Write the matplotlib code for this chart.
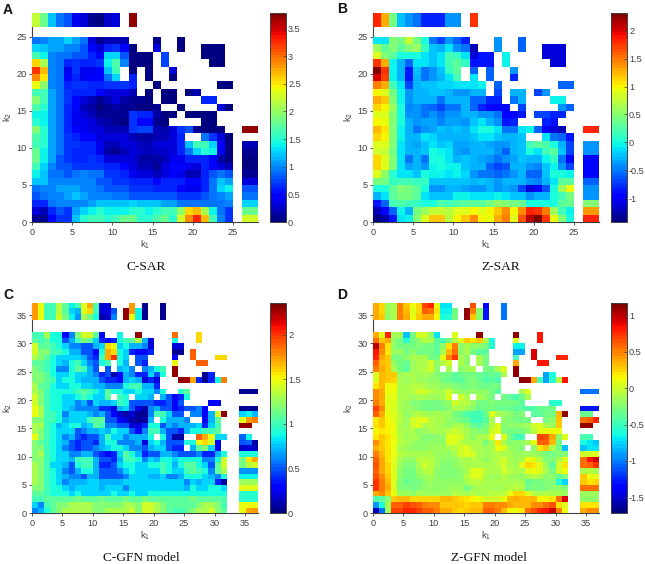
#!/usr/bin/env python
# -*- coding: utf-8 -*-

import numpy as np
import matplotlib
matplotlib.use('Agg')
import matplotlib.pyplot as plt

_ = np.nan

plt.rcParams['font.family'] = ['Liberation Sans', 'DejaVu Sans']
plt.rcParams['mathtext.fontset'] = 'custom'
plt.rcParams['mathtext.rm'] = 'Liberation Sans'
plt.rcParams['mathtext.it'] = 'Liberation Sans'
plt.rcParams['axes.unicode_minus'] = False

# all grids are written top row first, short rows are white to the right
a_top = [2.2, 1.8, 1.2, .9, .8, .4, .3, .1, .05, .25, .3, _, 3.7]
a_right = [3.7, _, .2, .1, .05, .05, .1, .35, .8, .9, 1.3, 1.8, 2.3]
a_main = [
    [.9, 1.0, 1.1, 1.1, 1.3, 1.1, .9, .3, .1, .2, .2, .2, _, _, _, .1, _, _, .05],
    [1.3, 1.2, 1.1, 1.1, 1.0, 1.0, .8, .5, .3, .6, .7, .5, .05, _, _, .3, _, _, .05, _, _, .05, .05, .05],
    [1.6, 1.4, 1.0, .9, .9, .8, .8, .6, .5, 1.3, 1.3, .8, .05, .05, .05, _, .75, _, _, _, _, .05, .05, .05],
    [2.6, 2.1, 1.0, .9, .6, .7, .6, .6, .7, 1.4, 1.7, 1.0, .05, .05, .05, _, .75, _, _, _, _, _, .05, .05],
    [3.2, 2.7, 1.0, .9, .4, .7, .4, .4, .5, 1.2, 1.6, _, .05, _, .05, _, _, .3],
    [2.9, 2.5, 1.0, .9, .5, .6, .4, .5, .5, .9, 1.3, _, .6, _, .05, _, _, .05],
    [2.4, 2.0, 1.0, .9, .6, .7, .7, .6, .6, .7, .7, .7, .6, _, _, .05, _, _, _, _, _, _, _, .05, .05],
    [1.6, 1.6, 1.1, .9, .7, .6, .6, .6, .5, .3, .3, .3, .2, _, .05, _, .05, .05, _, .05, .2],
    [1.9, 1.6, 1.1, .9, .7, .5, .3, .2, .1, .2, .3, .15, .1, .1, .05, _, .05, .05, _, _, _, .6, .6],
    [1.7, 1.5, 1.1, .9, .6, .5, .2, .15, .05, .1, .15, .1, .1, .05, .05, .1, _, _, .05, _, _, _, _, .3, .05],
    [1.4, 1.4, 1.1, .9, .6, .4, .3, .2, .1, .1, .1, .1, .7, .6, .6, .15, .05, .05, _, .05, .05, .05, .05],
    [1.5, 1.4, 1.1, .9, .6, .4, .4, .3, .2, .15, .1, .05, .7, .5, .5, .1, .05, _, _, _, _, .05, .05],
    [1.9, 1.5, 1.1, .9, .6, .5, .4, .3, .3, .2, .2, .2, .7, .75, .75, .2, .15, .3, .7, .8, .1, .05, .05, .05],
    [1.7, 1.5, 1.1, .9, .7, .6, .5, .5, .3, .3, .3, .3, .2, .15, .15, .2, .2, .3, .6, _, _, .9, .7, .3, .05],
    [1.6, 1.5, 1.1, .9, .7, .7, .6, .6, .4, .2, .2, .3, .3, .2, .2, .3, .3, .3, .6, 1.2, 1.6, 1.6, 1.3, .5, .05],
    [1.8, 1.4, 1.1, .9, .7, .6, .6, .6, .4, .15, .1, .2, .3, .25, .2, .25, .25, .3, .6, .9, 1.3, 1.5, 1.4, .4, .05],
    [1.8, 1.4, 1.1, .8, .7, .6, .6, .7, .6, .3, .3, .3, .3, .15, .15, .15, .2, .4, .4, .6, .6, .6, .5, .15, .05],
    [1.6, 1.3, 1.0, .8, .8, .7, .7, .7, .7, .6, .6, .5, .3, .2, .2, .1, .3, .5, .5, .4, .3, .6, .5, .3, .2],
    [1.4, 1.2, .9, .9, .8, .9, 1.0, .9, .9, .7, .7, .6, .4, .3, .3, .2, .3, .5, .4, .2, .2, .6, .8, .9, .8],
    [1.2, 1.2, 1.0, 1.0, 1.0, 1.0, 1.0, 1.0, .8, .8, .7, .7, .6, .6, .6, .5, .6, .6, .6, .5, .5, .6, .9, 1.2, 1.1],
    [.9, 1.0, 1.0, 1.1, 1.1, 1.1, 1.0, 1.0, .9, .8, .8, .8, .7, .7, .7, .6, .6, .6, .5, .4, .4, .6, .9, 1.3, 1.4],
    [.8, .9, 1.0, 1.0, 1.1, 1.2, 1.1, 1.0, 1.0, 1.0, .9, .9, .8, .8, .8, .8, .8, .8, .7, .7, .7, .8, .9, 1.0, 1.1],
    [.6, .6, .9, 1.0, 1.0, 1.0, 1.0, 1.1, 1.2, 1.2, 1.2, 1.2, 1.3, 1.2, 1.2, 1.2, 1.1, 1.1, .9, .9, .9, .9, .9, .9, 1.0],
    [.3, .2, .6, .8, .7, 1.1, 1.3, 1.4, 1.5, 1.4, 1.4, 1.4, 1.5, 1.5, 1.4, 1.5, 1.6, 1.6, 2.0, 2.6, 2.7, 2.1, 1.4, .9, .7],
    [.1, .1, .5, .7, .7, 1.2, 1.5, 1.6, 1.6, 1.5, 1.6, 1.8, 1.8, 1.5, 1.5, 1.7, 1.8, 1.5, 2.3, 2.9, 3.3, 2.7, 1.6, 1.0, .7],
]

b_top = [1.85, 1.3, .4, -.2, -.4, -.5, -.8, -.8, -.8, -.4, -.4, _, 1.75]
b_right = [1.85, _, -.4, -.4, -.95, -.95, -.95, -.6, -.4, -.4, .5, 1.35, 1.85]
b_main = [
    [-.1, -.1, .5, .4, .8, .4, 0, -.5, -.7, -.4, -.6, -.8, _, _, _, -.4, _, _, -.6],
    [.6, .3, .5, .3, .5, .6, .1, -.2, -.3, -.1, -.4, -.5, -1.2, _, _, -.4, _, _, -.6, _, _, -1.1, -1.1, -1.1],
    [.9, .5, .3, 0, 0, 0, -.1, -.2, -.1, .2, .1, -.1, -1.1, -.9, -.9, _, -.05, _, _, _, _, -1.1, -1.1, -1.1],
    [1.8, 1.3, -.05, -.3, -.6, -.1, -.1, -.2, -.1, .2, .3, .1, -.9, -.9, -.9, _, -.05, _, _, _, _, _, -1.1, -1.1],
    [2.3, 1.8, -.05, -.3, -.9, -.2, -.5, -.4, -.2, .1, .3, _, -.6, _, -.6, _, _, -.4],
    [2.0, 1.7, -.05, -.3, -.9, -.3, -.5, -.4, -.3, -.1, .2, _, -.1, _, -.6, _, _, -.8],
    [1.5, 1.3, .2, -.1, -.7, -.3, -.2, -.2, -.15, -.15, -.1, -.1, -.1, -.05, _, -.6, _, _, _, _, _, _, _, -.6, -.6],
    [1.0, .9, .4, -.05, -.4, -.3, -.3, -.25, -.25, -.3, -.4, -.4, -.3, -.3, _, -.7, _, -.3, -.3, _, -.7, -.4],
    [1.3, 1.2, .5, -.05, -.4, -.3, -.3, -.3, -.5, -.3, -.3, -.3, -.6, -.6, -.8, -.8, _, -.5, -.3, _, _, _, -.05, -.05],
    [1.1, 1.0, .6, 0, -.45, -.4, -.5, -.6, -.7, -.5, -.5, -.3, -.6, -.8, -1.0, -1.0, -1.0, _, -.7, _, _, _, _, -.4, -.6],
    [.9, .9, .5, 0, -.4, -.4, -.5, -.4, -.5, -.4, -.4, -.3, -.3, -.4, -.4, -.5, -1.0, -1.0, -.9, _, -.7, -.7, -.8, -.8],
    [1.0, .95, .5, 0, -.3, -.4, -.35, -.35, -.45, -.35, -.35, -.4, -.2, -.1, -.3, -.4, -.9, -.8, _, _, _, -.8, -.9],
    [1.25, 1.05, .45, -.05, -.3, -.5, -.4, -.35, -.25, -.3, -.25, -.3, -.1, 0, 0, -.1, -.5, -.5, -.1, -.05, -.6, -1.0, -1.1, -1.2],
    [1.15, 1.0, .45, -.05, -.3, -.3, -.1, -.15, -.3, -.3, -.3, -.3, -.2, -.1, -.1, -.2, -.3, -.3, -.2, _, _, -.1, -.5, -.6, -.85],
    [.9, .9, .45, -.1, -.3, -.35, -.25, -.1, -.2, -.15, -.35, -.35, -.3, -.3, -.35, -.4, -.4, -.3, -.2, .2, .3, .25, 0, -.3, -.7],
    [.85, .75, .4, -.1, -.3, -.3, -.2, 0, -.05, -.1, -.35, -.4, -.3, -.3, -.3, -.4, -.55, -.3, -.2, 0, -.1, .2, .3, -.2, -.7],
    [1.1, .9, .45, -.1, -.5, -.3, -.5, 0, 0, -.1, -.3, -.2, -.3, -.35, -.4, -.5, -.4, -.35, -.2, -.3, -.3, -.05, .1, -.5, -1.0],
    [1.15, .9, .45, -.1, -.35, -.3, -.4, -.05, 0, -.05, -.05, -.2, -.3, -.3, -.6, -.7, -.65, -.3, -.3, -.4, -.45, -.2, -.05, -.4, -.7],
    [.9, .55, .05, -.1, -.1, -.2, 0, -.05, -.05, -.1, -.05, -.15, -.4, -.5, -.5, -.6, -.5, -.4, -.3, -.55, -.55, -.2, 0, 0, -.05],
    [.4, .4, .1, .2, .2, .1, .1, -.2, -.25, -.25, -.25, -.2, -.3, -.25, -.3, -.4, -.3, -.3, -.3, -.4, -.45, -.3, -.1, .3, .3],
    [0, 0, .3, .5, .4, .3, 0, -.4, -.4, -.3, -.3, -.35, -.4, -.4, -.3, -.4, -.35, -.4, -.7, -1.1, -1.0, -.65, 0, .6, .95],
    [-.3, -.1, .3, .4, .4, .3, -.1, -.2, -.25, -.25, -.05, -.05, -.1, -.1, -.1, -.05, -.1, -.2, -.2, -.4, -.3, -.3, 0, .2, .4],
    [-.85, -.6, .2, .25, .2, .15, 0, 0, .25, .2, .25, .3, .3, .3, .4, .55, .5, .4, .35, 0, 0, 0, 0, .3, .35],
    [-1.2, -1.0, -.6, -.05, -.3, .4, .6, .8, .8, .7, .9, .9, 1.0, .9, 1.0, 1.2, 1.4, 1.0, 1.4, 1.85, 1.8, 1.5, .6, .2, -.05],
    [-1.4, -1.3, -.9, -.1, -.05, .5, .9, 1.2, 1.2, .7, 1.0, 1.2, 1.4, 1.0, .95, 1.3, 1.5, .9, 1.65, 2.1, 2.3, 1.75, .95, .45, 0],
]

c_top = [
    [1.75, 1.5, 1.0, 1.0, 1.35, 1.1, .85, 1.0, 1.45, 1.7, 1.05, .2, .2, _, _, _, 1.75, _, .05, _, _, .05],
    [1.75, 1.5, 1.0, 1.0, 1.35, 1.1, .8, .7, 1.45, 1.6, 1.0, .2, .2, .5, _, 2.3, 1.75, .85, .05, _, _, .05],
    [1.75, 1.5, 1.0, 1.0, 1.4, 1.15, .85, .65, 1.3, 1.15, .9, .1, .15, .6, _, 2.3, 1.5, .85, .05, _, _, .05],
]
c_right = [
    [.05, .05, .05], [_], [_], [.05, .05, .05], [.8, .85, .7], [1.45, 1.75, 1.8],
    [2.3, 2.3], [_], [.55, .85], [.5, .55, .1], [.15, .2, .15], [.9, .9, .9],
    [1.15, 1.55, 1.7], [1.15, 1.35, 1.4], [.65, .65, .65], [.85, .85, .85],
    [1.25, 1.25, 1.25], [1.45, 1.45, 1.45], [.95, .95, .95], [.95, .95, .95],
    [1.5, 1.5, 1.5], [1.5, 1.7, 1.75],
]
c_main = [
    [1.0, 1.0, 1.3, .9, .9, .3, .6, 1.2, 1.4, 1.4, 1.1, .3, _, _, .85, _, _, 2.3, _, _, _, _, _, 1.85, _, _, _, 1.6],
    [1.1, 1.0, 1.1, .9, .9, .5, .7, 1.0, 1.2, 1.1, .8, .4, .3, .4, .9, 1.0, 1.1, 1.3, .7, .2, _, _, _, .9, _, _, _, 1.6],
    [1.4, 1.1, 1.1, 1.0, .9, .8, .6, .6, .5, .5, .7, .8, 1.6, 1.5, .8, .9, .7, .7, .6, .2, _, _, _, .2, .2],
    [1.4, 1.2, 1.2, 1.0, 1.0, .9, .7, .7, .5, .5, .3, .9, 1.7, 1.6, .9, .8, .4, .3, .3, .4, _, _, _, .05, .05, _, 1.9],
    [1.3, 1.2, 1.1, .9, .8, .8, .8, .8, .7, .5, .4, 1.0, 1.7, 2.0, .9, .8, _, .5, .5, _, _, _, _, .3, _, _, 1.9, _, _, _, 1.6, 1.6],
    [1.1, 1.1, 1.0, .9, .8, .7, .9, 1.0, .8, .6, .5, .9, 1.0, _, .9, .7, _, .5, .4, _, _, _, _, 1.5, _, _, _, 1.9, 1.9],
    [1.2, 1.1, 1.0, .9, .6, .6, .9, 1.1, 1.0, .7, .5, _, .5, _, .7, .8, .6, _, .6, .7, .9, 1.0, _, 2.3],
    [1.2, 1.2, 1.1, .9, .8, .8, .9, .8, .8, .7, .6, .4, .5, .1, .3, .7, .6, .4, .4, .8, .5, .9, _, 2.3, _, _, _, _, .05, .4],
    [1.2, 1.2, 1.1, 1.0, .8, .9, .9, .8, .7, .7, .7, .5, .4, .4, .3, .7, .8, .7, .2, .4, .2, _, _, _, 2.3, 2.25, 1.7, .4, .05, .4, .85, 1.8],
    [1.3, 1.1, 1.1, .9, .8, .8, .9, .9, .8, .8, .7, .7, .6, .6, .6, .9, 1.0, 1.0, .7, .7, .4],
    [1.3, 1.2, 1.0, .9, .9, .9, .9, 1.0, 1.1, 1.0, .9, .8, 1.1, .9, .9, .8, .8, .9, .8, .8, .6, .9, _, _, .95, 1.1],
    [1.4, 1.2, 1.0, .9, .9, .8, .8, .9, 1.0, .9, .8, .8, 1.1, _, 1.0, .9, _, .8, .8, .7, _, .7, .5, .3, .4, .9],
    [1.4, 1.2, 1.0, .9, .9, .8, .8, .6, .7, .5, .8, .7, .7, .8, 1.0, .9, .5, .5, .5, .5, .4, .4, .5, .3, .5, _, _, _, _, .3, .3],
    [1.5, 1.3, 1.0, .9, .9, .8, .7, .6, .6, .6, .6, .4, .4, .2, .7, .8, .5, .2, .1, .6, .7, .5, .5, .3, .4, .5, .5, .6, .3],
    [1.5, 1.3, 1.0, 1.0, .9, .6, .8, .8, .8, .7, .6, .7, .5, .3, .15, .1, .2, .05, .05, .6, 1.0, 1.0, .8, .5, .5, _, .6, .6, .3, .7, 1.4, 2.3],
    [1.2, 1.2, 1.0, 1.0, .9, .7, .8, .8, .8, 1.0, 1.1, 1.1, .5, .5, .3, .2, .1, .05, .1, .7, _, .9, .7, .7, .7, .6, _, _, .3, .7, 1.1],
    [1.3, 1.3, 1.0, .9, .7, .8, .9, .9, .7, .8, 1.1, 1.0, .6, .6, .5, .5, .2, .2, .4, .9, .9, .5, .7, .6, .7, .7, .7, .8, .4, .8, 1.0],
    [1.3, 1.2, 1.0, .9, .8, .8, .8, .5, .6, .7, .7, .8, .7, .9, .8, .8, .5, .3, .6, 1.0, 1.0, .7, .5, .5, .4, .7, .9, .9, 1.0, 1.0, 1.1],
    [1.5, 1.2, 1.0, .9, .8, .6, .7, .5, .4, .5, .5, .7, 1.0, .8, .8, .6, .7, .7, .7, .9, _, .9, .5, .1, .1, _, _, 1.9, 1.7, 1.5, .8, .8],
    [1.2, 1.1, 1.0, .9, .8, .7, .5, .4, .5, .5, .4, .7, .9, .9, .6, .6, .6, .7, .2, .8, .9, .7, .5, .5, .5, .9, .9, 1.5, 1.6, 1.4, .3],
    [1.2, 1.2, 1.0, .9, .8, .6, .5, .4, .5, .5, .6, .7, .8, .9, .9, .8, .6, .6, .5, .7, .8, .8, .5, .4, .4, _, .7, 1.1, 1.2, .8, .3],
    [1.2, 1.3, 1.0, .9, .8, .8, .6, .6, .7, .7, .5, .4, .3, .4, .8, 1.1, .9, .7, .4, .5, .5, .7, .7, .6, .5, .5, .5, .6, .4, .4, .7, .9],
    [1.2, 1.2, 1.0, .9, .8, .8, .7, 1.0, 1.0, 1.0, .7, .5, .5, .4, .7, 1.0, 1.0, .9, .6, .8, .7, .9, .9, .8, .9, .9, .9, .9, .6, .6, .9, 1.4],
    [1.3, 1.2, 1.0, .8, .8, .7, .5, .9, 1.0, 1.0, .7, .4, .4, .5, .8, .9, .9, .8, .8, .9, .9, 1.0, .9, .7, .9, 1.1, 1.1, .9, .8, .5, 1.1, 1.4],
    [1.3, 1.2, 1.0, .9, .8, .6, .5, .7, .9, .9, .7, .5, .5, .5, .6, .8, .9, .8, .8, .8, .8, 1.0, .9, .8, .8, 1.0, 1.1, 1.0, .9, .6, 1.1, 1.3],
    [1.3, 1.2, 1.0, .9, .8, .7, .6, .6, .5, .7, .7, .5, .5, .5, .5, .6, .8, .8, .8, .7, .7, .8, .6, .6, .7, .9, .9, .9, .8, .7, .6, .9],
    [1.3, 1.2, 1.0, .9, .8, .6, .7, .7, .7, .8, .8, .7, .7, .7, .7, .8, .8, .8, .8, .8, .8, .8, .8, .8, .8, .6, .8, .7, .8, .8, .4, .1],
    [1.2, 1.2, 1.0, .9, .9, .8, .7, .8, .8, .8, .8, .7, .8, .8, .8, .6, .8, .8, .8, .8, .8, .8, .8, .8, .8, .7, .9, .8, .8, .9, .9, .8],
    [1.1, 1.1, 1.0, .9, .9, .9, .8, .9, .8, .8, .8, .8, .8, .9, .8, .8, .9, .8, .8, .9, .9, .9, .9, .9, .9, .9, .9, .9, .9, .9, .9, .9],
    [1.0, 1.0, 1.1, 1.1, 1.1, 1.1, 1.1, 1.15, 1.1, 1.1, 1.1, 1.15, 1.1, 1.1, 1.1, 1.15, 1.1, 1.1, 1.15, 1.1, 1.1, 1.1, 1.1, 1.1, 1.1, 1.1, 1.15, 1.1, 1.1, 1.1, 1.1, 1.05],
    [.8, .6, 1.0, 1.1, 1.2, 1.2, 1.3, 1.3, 1.3, 1.3, 1.2, 1.2, 1.2, 1.2, 1.2, 1.3, 1.3, 1.2, 1.4, 1.4, 1.3, 1.2, 1.1, 1.1, 1.1, 1.1, 1.1, 1.2, 1.3, 1.3, 1.2, 1.0],
    [.6, .7, .9, 1.1, 1.2, 1.3, 1.3, 1.3, 1.3, 1.3, 1.2, 1.2, 1.3, 1.3, 1.3, 1.3, 1.4, 1.2, 1.4, 1.4, 1.3, 1.2, 1.1, 1.0, 1.0, 1.1, 1.2, 1.3, 1.3, 1.4, 1.2, 1.1],
]

d_top = [
    [.4, .25, -.15, -.1, .5, .3, .1, .25, .7, .8, .1, -.7, -.7, _, _, _, .65, _, -1.4, _, _, -1.0],
    [.4, .25, -.15, -.1, .5, .35, .05, .25, .6, .55, .2, -.65, -.65, -.3, _, 1.1, .5, -.2, -1.3, _, _, -1.0],
    [.4, .3, -.2, -.1, .5, .4, .1, .3, .4, .4, .15, -.6, -.55, -.3, _, 1.1, .3, -.2, -1.3, _, _, -1.0],
]
d_right = [
    [-1.0, -1.0, -1.0], [_], [_], [-1.3, -1.3, -1.3], [-.35, -.35], [.55, .6, .8],
    [1.1, 1.1], [_], [-.45, -.5], [-.6, -.7, -.8], [-.8, -.7, -.7], [0, 0, .05],
    [.55, .85, .95], [.55, .6, .75], [-.1, -.05, -.1], [.3, .1, .1], [.3, .2, .25],
    [.55, .55, .55], [-.15, -.15, -.15], [-.2, -.2, -.2], [.2, .2, .2], [.4, .45, .45],
]
d_main = [
    [.4, .05, .8, -.15, -.1, -.8, -.3, 0, 0, -.2, -.7, _, _, .05, _, _, _, 1.1, _, _, _, _, _, 1.1, _, _, _, .85],
    [.55, .3, .4, -.2, -.3, -.55, -.3, -.2, -.05, -.1, -.4, -.5, -.3, -.05, .05, .3, .2, .3, -.1, -.6, _, _, _, .05, _, _, _, .85],
    [1.0, .5, .2, -.2, -.3, -.3, -.3, -.25, -.3, -.3, -.4, -.2, .2, .5, -.2, -.1, -.2, -.2, -.3, -.55, _, _, _, -.65, -.65],
    [.85, .45, .2, -.2, -.15, -.3, -.2, -.3, -.3, -.3, -.4, -.1, .35, .55, -.2, -.1, -.3, -.4, -.4, _, _, _, _, -.9, -.9, _, .9],
    [.8, .4, .3, -.3, -.3, -.2, -.1, -.1, -.1, -.3, -.3, .1, .5, .75, -.1, -.2, _, -.1, -.3, _, _, _, _, -.5, _, _, .9, _, _, _, .8, .8],
    [.6, .35, .3, -.2, -.3, -.35, -.15, -.1, -.1, 0, -.2, -.05, 0, _, -.1, -.2, _, -.1, -.3, _, _, _, _, .4, _, _, _, .85, .85],
    [.5, .4, .3, -.1, -.3, -.4, -.15, -.1, -.05, 0, -.2, _, -.1, _, -.2, -.15, -.1, _, -.3, -.3, -.1, .05, _, 1.1],
    [.05, .35, .3, .3, -.15, -.1, -.1, -.15, -.1, -.15, -.25, -.3, -.3, -.4, -.35, -.3, -.3, -.35, -.4, -.35, -.4, -.1, _, 1.1, _, _, _, _, -.9, -.6],
    [.05, .35, .3, .25, -.1, -.15, -.1, -.15, -.15, -.2, -.2, -.3, -.35, -.4, -.4, -.3, -.25, -.35, -.45, -.4, -.45, _, _, _, 1.1, 1.1, .4, -.5, -.9, -.55, -.05, .85],
    [.2, .35, .1, .15, -.1, -.1, -.05, -.05, -.1, -.15, -.15, -.2, -.2, -.25, -.3, -.3, -.25, -.3, -.35, -.3, -.3],
    [.45, .4, .1, .1, -.1, -.1, -.05, 0, 0, -.05, -.1, -.1, 0, -.15, -.2, -.2, -.2, -.2, -.2, -.3, -.4, _, _, _, -.1, .05],
    [.45, .4, .05, .1, -.1, -.1, -.15, -.1, -.1, -.15, -.15, -.1, .05, _, 0, -.1, _, -.1, -.2, -.3, _, -.3, -.4, -.45, -.35, -.1],
    [.5, .4, .05, .05, -.1, -.15, -.25, -.25, -.3, -.3, -.3, -.25, -.2, 0, -.05, -.05, -.15, -.3, -.3, -.25, -.3, -.3, -.3, -.3, -.4, _, _, _, _, -.55, -.55],
    [.7, .45, .05, .05, -.1, -.15, -.2, -.25, -.3, -.3, -.3, -.3, -.2, -.1, -.1, -.15, -.25, -.35, -.3, -.3, -.35, -.35, -.35, -.4, -.4, -.45, -.45, -.35, -.35, -.3],
    [.6, .4, .1, .05, -.05, -.2, -.1, -.05, -.1, -.15, -.1, -.15, -.15, -.3, -.35, -.45, -.5, -.5, -.35, .05, -.1, -.15, -.2, -.3, -.25, _, -.4, -.4, -.3, -.3, .35, 1.1],
    [.2, .3, .15, .05, -.05, -.15, 0, .05, .05, -.05, -.1, -.1, -.2, -.25, -.3, -.35, -.5, -.5, -.4, -.1, _, -.2, -.25, -.3, -.3, -.3, _, _, -.3, -.2, .3],
    [.2, .3, .15, .1, -.1, -.15, 0, .05, -.1, -.05, -.1, -.15, -.2, -.1, -.1, -.2, -.35, -.4, -.3, -.05, .05, -.25, -.2, -.2, -.15, -.15, 0, .05, -.1, -.15, .3],
    [.15, .2, .15, .1, -.1, -.1, -.1, -.2, -.15, -.1, -.1, -.1, -.05, 0, -.05, -.1, -.2, -.25, -.25, 0, .05, -.25, -.3, -.3, -.3, -.2, -.05, .05, .1, .1, .1],
    [.2, .3, .2, .1, -.05, -.15, -.1, -.15, -.25, -.25, -.2, -.2, .05, .05, 0, -.1, -.2, -.1, -.1, .1, _, .05, -.3, -.5, -.5, _, _, .7, .65, .4, -.2, .05],
    [.45, .3, .2, .1, -.05, -.1, -.15, -.2, -.2, -.2, -.2, -.2, .05, .05, -.05, -.1, -.1, -.1, -.3, -.1, .2, -.1, -.25, -.2, -.2, -.1, .1, .6, .6, .35, -.3],
    [.4, .3, .2, .1, -.1, -.15, -.2, -.2, -.2, -.15, -.15, -.15, -.1, -.05, 0, .05, -.05, -.1, -.15, -.1, .1, .05, -.15, -.2, -.25, _, -.2, .2, .3, -.1, -.3, -.8],
    [.5, .35, .2, .1, -.05, -.1, -.1, -.1, -.1, -.1, -.15, -.15, -.2, -.1, 0, .05, 0, -.1, -.15, -.1, -.05, -.1, -.1, -.2, -.15, -.15, -.15, -.2, -.3, -.3, -.25, -.25],
    [.6, .4, .2, .05, -.1, -.2, -.2, -.05, -.05, -.05, -.15, -.2, -.2, -.2, -.1, -.1, -.05, -.1, -.2, -.1, -.05, 0, -.1, -.15, -.1, .1, .05, -.05, -.25, -.25, -.1, .05],
    [.65, .4, .25, .05, -.15, -.25, -.25, -.1, 0, -.05, -.15, -.25, -.25, -.2, -.15, -.1, -.1, -.1, -.1, -.1, -.05, 0, -.1, -.15, .05, .25, .2, .05, -.15, -.4, 0, .2],
    [.6, .4, .25, .05, -.2, -.3, -.3, -.15, -.05, -.05, -.2, -.25, -.25, -.25, -.2, -.1, .05, .05, -.05, -.1, -.1, 0, -.05, -.1, -.1, .05, .1, .05, -.1, -.3, 0, .1],
    [.65, .45, .3, .05, -.2, -.3, -.3, -.2, -.15, -.1, -.2, -.25, -.25, -.25, -.2, -.05, .05, .05, -.1, -.15, -.15, -.05, -.15, -.15, -.2, -.1, -.05, -.1, -.2, -.2, -.4, -.25],
    [.75, .5, .35, .05, -.25, -.35, -.3, -.3, -.2, -.15, -.2, -.2, -.2, -.2, -.2, -.1, -.05, -.05, -.1, -.1, -.1, -.1, -.1, -.1, -.1, -.35, -.3, -.3, -.25, -.25, -.55, -.75],
    [.75, .5, .4, .05, -.25, -.25, -.3, -.25, -.2, -.2, -.2, -.2, -.15, -.15, -.15, -.3, -.15, -.1, -.1, -.1, -.15, -.1, -.05, -.05, -.05, -.35, -.25, -.3, -.25, -.2, -.2, -.25],
    [.4, .45, .3, .1, -.15, -.15, -.2, -.1, -.15, -.15, -.15, -.15, -.15, -.05, -.1, -.1, -.05, -.1, -.1, -.05, -.05, -.05, .1, .25, .25, .05, -.05, -.1, -.05, -.1, -.1, -.15],
    [-.45, -.4, -.25, .3, .35, .35, .25, .25, .25, .25, .25, .35, .35, .3, .25, .2, .15, .1, 0, 0, 0, .1, .35, .4, .35, .35, .35, .15, .15, .2, .55, .9],
    [-.95, -.6, -.1, .6, .6, .7, .65, .6, .5, .45, .45, .3, .3, .3, .3, .25, .3, .3, .5, .5, .45, .45, .4, .35, .35, .35, .45, .45, .55, .65, .2, .05],
    [-1.55, -1.0, -.15, .7, .7, .8, .8, .7, .6, .6, .5, .4, .4, .3, .25, .3, .35, .35, .6, .6, .5, .35, .15, .1, .2, .55, .65, .8, .85, .95, .5, .1],
]

ticks_sar = [0, 5, 10, 15, 20, 25]
ticks_gfn = [0, 5, 10, 15, 20, 25, 30, 35]
a_cticks = [0, .5, 1, 1.5, 2, 2.5, 3, 3.5]
b_cticks = [-1, -.5, 0, .5, 1, 1.5, 2]
c_cticks = [0, .5, 1, 1.5, 2]
d_cticks = [-1.5, -1, -.5, 0, .5, 1]

W, H = 645.0, 564.0
GREY = '#404040'
cmap = plt.get_cmap('jet', 64)


def pad(rows, ncol):
    out = np.full((len(rows), ncol), np.nan)
    for i, row in enumerate(rows):
        out[i, :len(row)] = row
    return out


def box(left, top, right, bottom):
    # pixel box to figure fraction
    return [left / W, 1 - bottom / H, (right - left) / W, (bottom - top) / H]


def draw_panel(fig, letter, title, main, top, side, ticks, cticks, clim,
               axbox, cbox, xedge_side, yedge_top, xmax, ymax):
    ax = fig.add_axes(box(*axbox))
    n = len(main)
    edges = np.arange(n + 1)
    norm = plt.Normalize(*clim)

    mesh = ax.pcolormesh(edges, edges, pad(main, n)[::-1], cmap=cmap, norm=norm, zorder=3)

    top_grid = pad(top, len(top[0]))[::-1]
    ax.pcolormesh(np.arange(len(top[0]) + 1), yedge_top, top_grid, cmap=cmap, norm=norm, zorder=3)

    side_grid = pad(side, len(xedge_side) - 1)[::-1]
    ax.pcolormesh(xedge_side, np.arange(len(side) + 1), side_grid, cmap=cmap, norm=norm, zorder=3)

    ax.set_xlim(0, xmax)
    ax.set_ylim(0, ymax)
    ax.set_xticks(ticks)
    ax.set_yticks(ticks)
    ax.tick_params(labelsize=6.6, length=2, width=0.6, color=GREY, labelcolor=GREY, pad=2)
    ax.spines['top'].set_visible(False)
    ax.spines['right'].set_visible(False)
    for name in ['left', 'bottom']:
        ax.spines[name].set_color(GREY)
        ax.spines[name].set_linewidth(0.8)
    ax.set_xlabel('k$_1$', fontsize=6.8, color=GREY, labelpad=1.5)
    ax.set_ylabel('k$_2$', fontsize=6.8, color=GREY, labelpad=1.5)

    cax = fig.add_axes(box(*cbox))
    cbar = fig.colorbar(mesh, cax=cax, ticks=cticks)
    cbar.ax.set_yticklabels(['%g' % t for t in cticks])
    cbar.ax.tick_params(labelsize=6.6, length=2, width=0.5, color=GREY, labelcolor=GREY,
                        direction='in', pad=1.5)
    cbar.outline.set_edgecolor(GREY)
    cbar.outline.set_linewidth(0.7)

    fig.text(letter[1] / W, 1 - letter[2] / H, letter[0], fontsize=10, fontweight='bold',
             ha='left', va='center', color='#111111')
    fig.text(title[1] / W, 1 - title[2] / H, title[0], fontsize=9.6, ha='center', va='center',
             family=['Liberation Serif', 'DejaVu Serif'], color='#111111')


fig = plt.figure(figsize=(6.45, 5.64), dpi=100)

sar_edges_top = [26.4, 28.3]
sar_edges_side = [26.1, 28.1]
draw_panel(fig, ('A', 3, 10), ('C-SAR', 146, 267), a_main, [a_top], [[v] for v in a_right], ticks_sar, a_cticks,
           (0, 3.79), (32, 12.5, 258, 222), (269.5, 12.5, 286, 222),
           sar_edges_side, sar_edges_top, 28.1, 28.3)
draw_panel(fig, ('B', 337, 9), ('Z-SAR', 501, 267), b_main, [b_top], [[v] for v in b_right], ticks_sar, b_cticks,
           (-1.43, 2.33), (373, 12.5, 599, 222), (610.5, 12.5, 627, 222),
           sar_edges_side, sar_edges_top, 28.1, 28.3)

gfn_edges_top = [34.2, 35.2, 36.2, 37.1]
gfn_edges_side = [34.1, 35.1, 36.1, 37.15]
draw_panel(fig, ('C', 3, 295), ('C-GFN model', 141, 558), c_main, c_top, c_right, ticks_gfn, c_cticks,
           (0, 2.35), (32, 303.3, 258, 513.3), (269.5, 303.3, 286, 513.3),
           gfn_edges_side, gfn_edges_top, 37.15, 37.1)
draw_panel(fig, ('D', 337, 295), ('Z-GFN model', 489, 558), d_main, d_top, d_right, ticks_gfn, d_cticks,
           (-1.72, 1.17), (373, 303.3, 599, 513.3), (610.5, 303.3, 627, 513.3),
           gfn_edges_side, gfn_edges_top, 37.15, 37.1)

fig.savefig('out.png', dpi=100)
